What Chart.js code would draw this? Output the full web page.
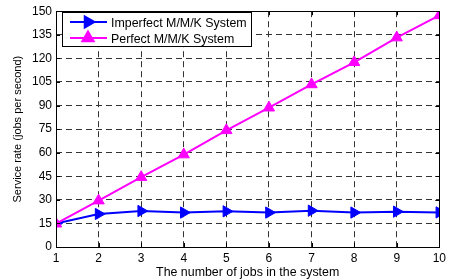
<!DOCTYPE html>
<html><head><meta charset="utf-8">
<script src="https://cdn.jsdelivr.net/npm/chart.js@4"></script>
<style>html,body{margin:0;padding:0;background:#fff}#wrap{width:450px;height:280px;position:relative}</style>
</head><body><div id="wrap"><canvas id="c" width="450" height="280"></canvas></div>
<script>
const jobs = [1,2,3,4,5,6,7,8,9,10];
const imperfect = [15, 21, 22.9, 21.9, 22.7, 21.9, 23.1, 21.9, 22.5, 22];
const perfect = [14.8, 29.5, 44.4, 58.8, 74.2, 88.6, 103.4, 117.5, 133.2, 147.3];
const yTicks = [0,15,30,45,60,75,90,105,120,135,150];
const seriesNames = ['Imperfect M/M/K System','Perfect M/M/K System'];
const FONT = '"Liberation Sans", Arial, sans-serif';

const frame = {
  id:'frame',
  afterDatasetsDraw(chart){
    const {ctx, chartArea:a} = chart;
    ctx.save();
    ctx.strokeStyle='#000'; ctx.lineWidth=1;
    ctx.strokeRect(Math.round(a.left)+0.5, Math.round(a.top)+0.5, Math.round(a.right-a.left), Math.round(a.bottom-a.top));
    const xs = chart.scales.x, ys = chart.scales.y;
    ctx.beginPath();
    jobs.forEach(v=>{const px=Math.round(xs.getPixelForValue(v))+0.5;
      ctx.moveTo(px,a.bottom); ctx.lineTo(px,a.bottom-4); ctx.moveTo(px,a.top); ctx.lineTo(px,a.top+4);});
    yTicks.forEach(v=>{const py=Math.round(ys.getPixelForValue(v))+0.5;
      ctx.moveTo(a.left,py); ctx.lineTo(a.left+4,py); ctx.moveTo(a.right,py); ctx.lineTo(a.right-4,py);});
    ctx.stroke();
    const bx=62.5, by=12.5, bw=189, bh=34;
    ctx.fillStyle='#fff'; ctx.fillRect(bx,by,bw,bh);
    ctx.strokeRect(bx,by,bw,bh);
    const entries=[{c:'#0000ff',rot:90,y:22},{c:'#ff00ff',rot:0,y:38}];
    entries.forEach((e,i)=>{
      ctx.strokeStyle=e.c; ctx.lineWidth=2;
      ctx.beginPath(); ctx.moveTo(70,e.y); ctx.lineTo(107,e.y); ctx.stroke();
      ctx.fillStyle=e.c;
      Chart.helpers.drawPoint(ctx,{pointStyle:'triangle',radius:6.5,rotation:e.rot,borderWidth:1},88,e.y);
      ctx.fill();
      ctx.fillStyle='#000'; ctx.font='12.4px '+FONT; ctx.textBaseline='middle'; ctx.textAlign='left';
      ctx.fillText(seriesNames[i],111,e.y+1.5);
    });
    ctx.restore();
  }
};

new Chart(document.getElementById('c'),{
  type:'line',
  data:{datasets:[
    {label:seriesNames[0], data:jobs.map((x,i)=>({x,y:imperfect[i]})), borderColor:'#0000ff', backgroundColor:'#0000ff',
     borderWidth:2, pointStyle:'triangle', pointRotation:90, pointRadius:6.5, pointBorderWidth:1, order:1},
    {label:seriesNames[1], data:jobs.map((x,i)=>({x,y:perfect[i]})), borderColor:'#ff00ff', backgroundColor:'#ff00ff',
     borderWidth:2, pointStyle:'triangle', pointRadius:6.5, pointBorderWidth:1, order:0}
  ]},
  options:{
    responsive:false, animation:false, devicePixelRatio:1,
    layout:{padding:{top:7,right:6,left:11,bottom:0}},
    plugins:{legend:{display:false},tooltip:{enabled:false}},
    scales:{
      x:{type:'linear',min:1,max:10,
        afterBuildTicks:s=>{s.ticks=jobs.map(v=>({value:v}));},
        afterFit:s=>{s.height=33;},
        grid:{color:'#333',lineWidth:1,drawTicks:false},
        border:{display:false,dash:[6,4]},
        ticks:{color:'#000',font:{family:FONT,size:12},padding:4,maxRotation:0},
        title:{display:true,text:'The number of jobs in the system',color:'#000',font:{family:FONT,size:12.4},padding:{top:0,bottom:0}}
      },
      y:{type:'linear',min:0,max:150,
        afterBuildTicks:s=>{s.ticks=yTicks.map(v=>({value:v}));},
        afterFit:s=>{s.width=45;},
        grid:{color:'#333',lineWidth:1,drawTicks:false},
        border:{display:false,dash:[6,4]},
        ticks:{color:'#000',font:{family:FONT,size:12},padding:4},
        title:{display:true,text:'Service rate (jobs per second)',color:'#000',font:{family:FONT,size:11},padding:{top:0,bottom:4}}
      }
    }
  },
  plugins:[frame]
});
</script></body></html>
